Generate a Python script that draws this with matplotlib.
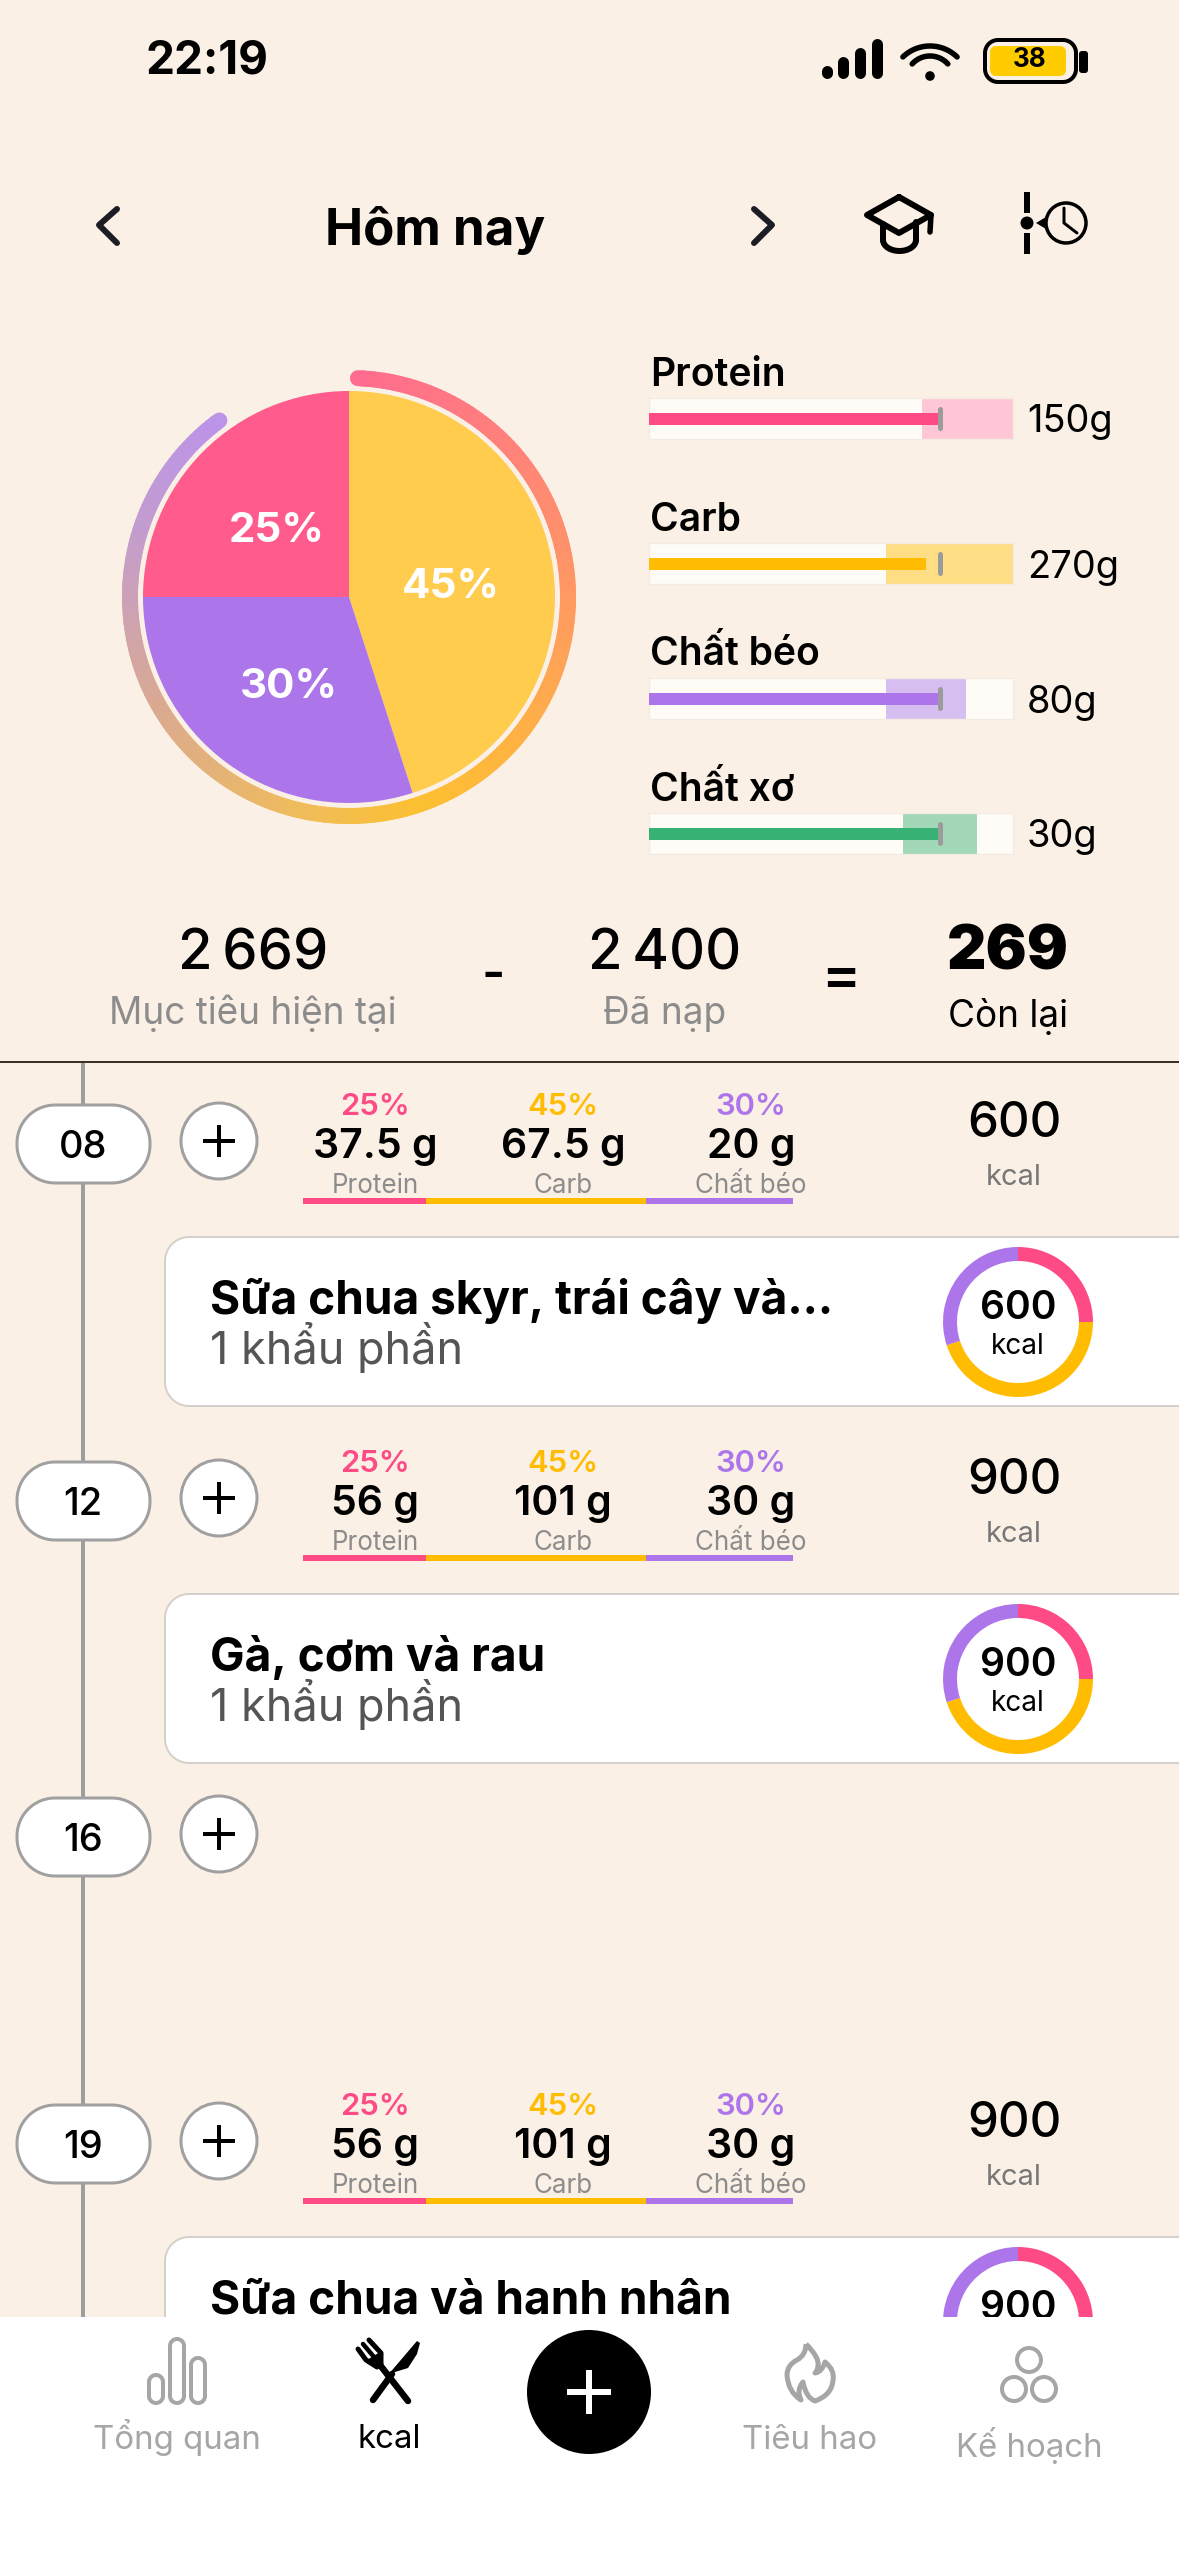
import matplotlib
matplotlib.use("Agg")
import matplotlib.pyplot as plt
import numpy as np
from matplotlib.patches import Circle, Rectangle, PathPatch, Polygon
from matplotlib.path import Path
from matplotlib.collections import LineCollection
from matplotlib.colors import LinearSegmentedColormap

W, H = 1179, 2556

# pie
macro_shares = [45, 30, 25]
macro_pct_labels = ["45%", "30%", "25%"]

# bullet bars (grams)
bar_names = ["Protein", "Carb", "Chất béo", "Chất xơ"]
bar_targets = [150, 270, 80, 30]
bar_consumed = [149, 257, 80, 29.9]
bar_band_lo = [140.6, 220, 65, 26.2]
bar_band_hi = [187.5, 337.5, 87, 33.75]
bar_max = [187.5, 337.5, 100, 37.5]

# totals
kcal_target = 2669
kcal_eaten = 2400
kcal_left = 269

# meals
slot_hours = ["08", "12", "16", "19"]
meal_titles = ["Sữa chua skyr, trái cây và...", "Gà, cơm và rau", None, "Sữa chua và hạnh nhân"]
meal_kcal = [600, 900, None, 900]
meal_protein = ["37.5 g", "56 g", None, "56 g"]
meal_carb = ["67.5 g", "101 g", None, "101 g"]
meal_fat = ["20 g", "30 g", None, "30 g"]
stripe_shares = [25, 45, 30]
stripe_pcts = ["25%", "45%", "30%"]
stripe_names = ["Protein", "Carb", "Chất béo"]

nav_labels = ["Tổng quan", "kcal", "Tiêu hao", "Kế hoạch"]

BG = "#FBF0E6"
PINK = "#FF4B85"
AMBER = "#FFBC00"
PURPLE = "#AC76EA"
GREEN = "#38B274"
NAVGRAY = "#A6A6A6"

plt.rcParams["font.family"] = ["Inter", "Noto Sans", "DejaVu Sans"]

fig = plt.figure(figsize=(W / 100, H / 100), dpi=100, facecolor=BG)
ax = fig.add_axes([0, 0, 1, 1])
ax.set_facecolor(BG)


def Y(y):
    # screen pixels are counted from the top
    return H - y


def lw(px):
    return px * 0.72


def txt(x, y, s, px, color="black", weight="normal", ha="center", z=5):
    ax.text(x, Y(y), s, fontsize=px * 0.72, color=color, fontweight=weight,
            ha=ha, va="baseline", zorder=z)


def line(xs, ys, px, color="black", z=5, cap="round"):
    ax.plot(xs, [Y(v) for v in ys], color=color, lw=lw(px), zorder=z,
            solid_capstyle=cap, solid_joinstyle="round")


def rrect(x0, y0, x1, y1, r, fc, ec="none", px=0, z=3):
    # true circular corners, the round boxstyle comes out too square
    t = np.linspace(0, np.pi / 2, 16)
    pts = []
    for cx, cy, start in [(x1 - r, y1 - r, 0), (x0 + r, y1 - r, np.pi / 2),
                          (x0 + r, y0 + r, np.pi), (x1 - r, y0 + r, 1.5 * np.pi)]:
        pts += [(cx + r * np.cos(start + a), Y(cy) - r * np.sin(start + a)) for a in t]
    ax.add_patch(Polygon(pts, closed=True, fc=fc, ec=ec, lw=lw(px), zorder=z))


def circ(x, y, r, fc="none", ec="none", px=0, z=5):
    ax.add_patch(Circle((x, Y(y)), r, fc=fc, ec=ec, lw=lw(px), zorder=z))


def donut(cx, cy, r_out, r_w, z=3.5):
    wedges, _ = ax.pie(stripe_shares, colors=[PINK, AMBER, PURPLE], startangle=90,
                       counterclock=False, center=(cx, Y(cy)), radius=r_out,
                       wedgeprops=dict(width=r_w, linewidth=0))
    for w in wedges:
        w.set_zorder(z)


# status bar
txt(145, 73, "22:19", 46, weight="bold", ha="left")
for bx, top in zip([827, 843, 860, 877], [71, 62, 53, 44]):
    line([bx, bx], [top, 73], 11)
for cy, r, half in [(85, 39, 44), (80, 24, 48)]:
    t = np.radians(np.linspace(90 - half, 90 + half, 30))
    line(930 + r * np.cos(t), cy - r * np.sin(t), 5.5)
circ(930, 76, 4.8, "black")
rrect(985, 40, 1076, 82, 13, "none", "black", 4)
rrect(990, 46, 1066, 76, 6, "#FFCC00")
rrect(1079, 51, 1088, 73, 3, "black")
txt(1030, 67, "38", 26, weight="bold")

# header
txt(435, 245, "Hôm nay", 51, weight="bold")
line([117, 99, 117], [209, 225, 243], 6, "#1C1C24")
line([754, 772, 754], [209, 225, 243], 6, "#1C1C24")
line([899, 867, 899, 931, 899], [197, 215, 233, 215, 197], 6)
line([883, 883], [224, 240], 6)
line([916, 916], [222, 240], 6)
tc = np.linspace(0, np.pi, 20)
line(899.5 + 16.5 * np.cos(tc), 240 + 11 * np.sin(tc), 6)
line([931, 930], [215, 232], 5.5)
line([1027, 1027], [192, 213], 6, cap="butt")
line([1027, 1027], [233, 254], 6, cap="butt")
circ(1027, 223, 6.5, "black")
circ(1066, 223, 20, "none", "black", 3.5)
line([1064, 1064, 1077], [208, 223, 233], 3)
ax.add_patch(Polygon([(1036, Y(223)), (1046, Y(217)), (1046, Y(229))], fc="black", zorder=5))

# macro pie
pie_c = (349, 597)
ax.pie(macro_shares, colors=["#FFCC4D", "#AC76EA", "#FF5C8D"], startangle=90,
       counterclock=False, center=(pie_c[0], Y(pie_c[1])), radius=206,
       wedgeprops=dict(linewidth=0))
for (x, y), s in zip([(451, 598), (289, 698), (277, 542)], macro_pct_labels):
    txt(x, y, s, 42, color="white", weight="bold")

# progress ring round the pie
ring_frac = kcal_eaten / kcal_target
ring_cmap = LinearSegmentedColormap.from_list(
    "ring", [(0, "#FF6B90"), (0.25, "#FF9468"), (0.42, "#FFB540"), (0.5, "#FCC030"),
             (0.6, "#EFBC5C"), (0.75, "#D9A992"), (0.9, "#C39CD0"), (1, "#BC94E8")])
a = np.linspace(0.0065, ring_frac, 240) * 2 * np.pi
rx = pie_c[0] + 219 * np.sin(a)
ry = Y(pie_c[1]) + 219 * np.cos(a)
pts = np.column_stack([rx, ry]).reshape(-1, 1, 2)
segs = np.concatenate([pts[:-1], pts[1:]], axis=1)
ring = LineCollection(segs, cmap=ring_cmap, linewidths=lw(16), capstyle="round", zorder=4)
ring.set_array(np.linspace(0, 1, len(segs)))
ax.add_collection(ring)

# bullet bars, one small axes each so the grams set the scale
track_tops = [398, 543, 678, 813]
name_base = [386, 531, 665, 801]
val_base = [432, 578, 713, 847]
bar_cols = [PINK, AMBER, PURPLE, GREEN]
band_cols = ["#FFC7D6", "#FFDD85", "#D6BEF0", "#A2D8B8"]
for i, name in enumerate(bar_names):
    top = track_tops[i]
    b = fig.add_axes([649 / W, 1 - (top + 41) / H, 364 / W, 41 / H])
    b.set_xlim(0, bar_max[i])
    b.set_ylim(-0.5, 0.5)
    b.set_facecolor("#FFFCF8")
    b.set_xticks([])
    b.set_yticks([])
    for sp in b.spines.values():
        sp.set_color("#F3EBE2")
        sp.set_linewidth(1)
    b.barh(0, bar_band_hi[i] - bar_band_lo[i], left=bar_band_lo[i], height=1, color=band_cols[i], zorder=2)
    b.barh(0, bar_consumed[i], height=12 / 41, color=bar_cols[i], zorder=3)
    b.plot([bar_targets[i]] * 2, [-0.22, 0.22], color="#9B9B9B", lw=lw(5), solid_capstyle="round", zorder=4)
    txt(650, name_base[i], name, 39, weight="semibold", ha="left")
    txt(1027, val_base[i], "%dg" % bar_targets[i], 38, ha="left")

# totals row
txt(253, 969, "2\u2009669", 56, weight="medium")
txt(253, 1024, "Mục tiêu hiện tại", 37, color="#8C8C8C")
txt(493, 990, "-", 50, weight="semibold")
txt(665, 969, "2\u2009400", 56, weight="medium")
txt(665, 1024, "Đã nạp", 37, color="#8C8C8C")
txt(841, 994, "=", 58, weight="semibold")
txt(1008, 969, str(kcal_left), 61, weight="black")
txt(1008, 1027, "Còn lại", 37)
line([0, W], [1062, 1062], 2, "#3B3028", z=6, cap="butt")

# timeline
line([83, 83], [1062, 2317], 4, "#9E9E9E", z=1, cap="butt")
offsets = [0, 357, 693, 1000]
stripe_x0, stripe_w = 303, 490
for i, hour in enumerate(slot_hours):
    d = offsets[i]
    rrect(17, 1105 + d, 150, 1183 + d, 38, "white", "#A0A0A0", 3)
    txt(83, 1158 + d, hour, 38, weight="medium")
    circ(219, 1141 + d, 38, "white", "#A0A0A0", 3)
    line([219, 219], [1125 + d, 1157 + d], 4, cap="butt")
    line([203, 235], [1141 + d, 1141 + d], 4, cap="butt")
    if meal_titles[i] is None:
        continue
    vals = [meal_protein[i], meal_carb[i], meal_fat[i]]
    for x, col, pct, v, nm in zip([375, 563, 751], [PINK, AMBER, PURPLE], stripe_pcts, vals, stripe_names):
        txt(x, 1115 + d, pct, 31, color=col, weight="semibold")
        txt(x, 1158 + d, v, 41, weight="semibold")
        txt(x, 1193 + d, nm, 26, color="#8C8C8C")
    s = fig.add_axes([stripe_x0 / W, 1 - (1204 + d) / H, stripe_w / W, 6 / H])
    s.set_xlim(0, 100)
    s.set_ylim(0, 1)
    s.axis("off")
    left = 0
    for share, col in zip(stripe_shares, [PINK, AMBER, PURPLE]):
        s.barh(0.5, share, left=left, height=1, color=col)
        left += share
    txt(1014, 1137 + d, str(meal_kcal[i]), 49, weight="medium")
    txt(1014, 1185 + d, "kcal", 29, color="#777777")
    rrect(165, 1237 + d, 1240, 1406 + d, 24, "white", "#D4D0CC", 2, z=2)
    txt(210, 1314 + d, meal_titles[i], 46, weight="bold", ha="left", z=3)
    txt(210, 1364 + d, "1 khẩu phần", 45, color="#555555", ha="left", z=3)
    donut(1018, 1322 + d, 75, 14)
    txt(1018, 1319 + d, str(meal_kcal[i]), 39, weight="semibold", z=3.6)
    txt(1018, 1354 + d, "kcal", 28, z=3.6)

# bottom nav
ax.add_patch(Rectangle((0, 0), W, H - 2317, fc="white", ec="none", zorder=10))
for x, top in zip([156, 177, 198], [2375, 2339, 2358]):
    rrect(x - 7, top, x + 7, 2403, 7, "none", NAVGRAY, 4, z=11)
txt(177, 2449, nav_labels[0], 33, color=NAVGRAY, z=11)

# fork and knife
line([373, 392], [2400, 2374], 6.5, z=11)
ax.add_patch(Polygon([(Px, Y(Py)) for Px, Py in [(388, 2375), (417, 2341), (420, 2343), (417, 2354),
                                                 (408, 2368), (395, 2372)]], fc="black", zorder=11))
line([408, 380], [2401, 2365], 6.5, z=11)
line([358, 366, 377], [2349, 2360, 2367], 5, z=11)
line([363, 374], [2344, 2357], 4.5, z=11)
line([369, 381, 381], [2340, 2353, 2365], 5, z=11)
ax.add_patch(Polygon([(Px, Y(Py)) for Px, Py in [(367, 2360), (380, 2352), (382, 2366), (376, 2368)]],
                     fc="black", zorder=11))
txt(389, 2448, nav_labels[1], 33, z=11)

circ(589, 2392, 62, "black", z=11)
line([589, 589], [2370, 2414], 6, "white", z=12, cap="butt")
line([567, 611], [2392, 2392], 6, "white", z=12, cap="butt")

# flame outline, quadratic pieces
fl = [(806, 2344), (820, 2358), (818, 2366), (817, 2372), (815, 2373), (822, 2372), (825, 2362),
      (835, 2370), (833, 2380), (832, 2395), (815, 2401), (806, 2398), (803, 2382), (796, 2390),
      (801, 2400), (788, 2392), (787, 2375), (787, 2365), (797, 2360), (806, 2355), (806, 2344)]
flame = Path([(x, Y(y)) for x, y in fl], [Path.MOVETO] + [Path.CURVE3] * 20)
ax.add_patch(PathPatch(flame, fc="none", ec=NAVGRAY, lw=lw(5), zorder=11, joinstyle="round"))
txt(810, 2449, nav_labels[2], 33, color=NAVGRAY, z=11)

circ(1029, 2360, 12, ec=NAVGRAY, px=4, z=11)
circ(1014, 2389, 12, ec=NAVGRAY, px=4, z=11)
circ(1044, 2389, 12, ec=NAVGRAY, px=4, z=11)
txt(1029, 2457, nav_labels[3], 33, color=NAVGRAY, z=11)

ax.set_xlim(0, W)
ax.set_ylim(0, H)
ax.set_aspect("auto")
ax.axis("off")
fig.savefig("out.png", dpi=100, facecolor=BG)
